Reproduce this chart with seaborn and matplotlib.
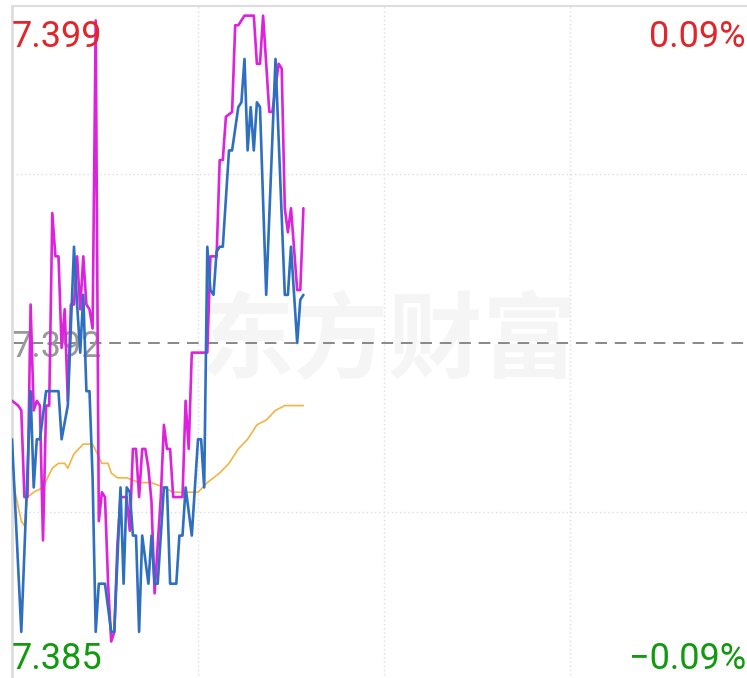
import matplotlib
matplotlib.use("Agg")
import matplotlib.pyplot as plt
import pandas as pd
import seaborn as sns

# minute index since open (0..240) and prices
mag_min = [0, 2, 3, 4, 5, 6, 7, 8, 9, 10,
           11, 12, 13, 14, 15, 16, 17, 18, 19, 20,
           21, 22, 23, 24, 25, 26, 27, 28, 29, 30,
           31, 32, 33, 34, 35, 37, 38, 39, 40, 41,
           42, 43, 44, 45, 46, 47, 48, 49, 50, 51,
           52, 55, 56, 57, 58, 63, 64, 66, 67, 68,
           69, 71, 72, 73, 74, 75, 78, 79, 80, 81,
           83, 84, 86, 87, 88, 89, 90, 92, 93, 94]
mag_val = [7.3908, 7.3907, 7.3906, 7.3888, 7.3888, 7.3928, 7.3906, 7.3908, 7.3907, 7.3879,
           7.3907, 7.3907, 7.3947, 7.3938, 7.3938, 7.3919, 7.3927, 7.3908, 7.3928, 7.3928,
           7.3938, 7.3927, 7.3938, 7.3928, 7.3927, 7.3923, 7.3987, 7.3883, 7.3889, 7.3888,
           7.3870, 7.3858, 7.3860, 7.3878, 7.3888, 7.3888, 7.3881, 7.3898, 7.3898, 7.3888,
           7.3898, 7.3898, 7.3894, 7.3887, 7.3868, 7.3878, 7.3888, 7.3903, 7.3898, 7.3898,
           7.3888, 7.3888, 7.3908, 7.3898, 7.3918, 7.3918, 7.3938, 7.3938, 7.3958, 7.3958,
           7.3967, 7.3968, 7.3986, 7.3986, 7.3987, 7.3988, 7.3988, 7.3978, 7.3978, 7.3988,
           7.3968, 7.3968, 7.3978, 7.3977, 7.3948, 7.3943, 7.3948, 7.3931, 7.3931, 7.3948]

blue_min = [0, 3, 6, 7, 8, 9, 11, 15, 16, 18,
            20, 21, 22, 23, 24, 25, 26, 27, 28, 30,
            32, 33, 35, 36, 37, 38, 39, 40, 41, 42,
            44, 45, 46, 47, 49, 50, 51, 53, 54, 55,
            56, 58, 60, 61, 62, 63, 64, 65, 66, 67,
            68, 70, 71, 73, 74, 75, 76, 77, 78, 79,
            80, 82, 85, 88, 89, 90, 92, 93, 94]
blue_val = [7.3900, 7.3860, 7.3910, 7.3890, 7.3900, 7.3900, 7.3910, 7.3910, 7.3900, 7.3907,
            7.3940, 7.3928, 7.3918, 7.3930, 7.3910, 7.3910, 7.3892, 7.3860, 7.3870, 7.3870,
            7.3860, 7.3860, 7.3890, 7.3870, 7.3890, 7.3889, 7.3880, 7.3880, 7.3860, 7.3880,
            7.3870, 7.3880, 7.3870, 7.3870, 7.3890, 7.3890, 7.3870, 7.3870, 7.3880, 7.3880,
            7.3890, 7.3880, 7.3900, 7.3900, 7.3890, 7.3940, 7.3931, 7.3930, 7.3939, 7.3940,
            7.3940, 7.3960, 7.3960, 7.3969, 7.3970, 7.3979, 7.3960, 7.3969, 7.3960, 7.3970,
            7.3969, 7.3930, 7.3979, 7.3930, 7.3930, 7.3940, 7.3920, 7.3929, 7.3930]

avg_min = [0, 1, 3, 4, 5, 7, 10, 13, 15, 17, 18, 20, 23, 26, 29, 31, 32, 34,
           37, 41, 45, 49, 52, 55, 60, 63, 67, 70, 73, 76, 79, 82, 85, 88, 94]
avg_val = [7.3896, 7.3889, 7.3883, 7.3882, 7.3888, 7.3889, 7.3890, 7.3894, 7.3895,
           7.3895, 7.3894, 7.3897, 7.3899, 7.3899, 7.3895, 7.3895, 7.3893, 7.3892,
           7.3892, 7.3891, 7.3891, 7.3890, 7.3889, 7.3889, 7.3889, 7.3891, 7.3893,
           7.3895, 7.3898, 7.3900, 7.3903, 7.3904, 7.3906, 7.3907, 7.3907]

y_low, y_mid, y_high = 7.385, 7.392, 7.399
pct_high, pct_low = "0.09%", "\u22120.09%"
watermark = "东方财富"

sns.set_style("white")
plt.rcParams["font.family"] = ["Roboto", "DejaVu Sans"]

W, H = 747, 678
fig = plt.figure(figsize=(W / 100, H / 100), dpi=100)
ax = fig.add_axes([12 / W, -2 / H, 744 / W, 674 / H])

ax.text(389 / W, 1 - 343 / H, watermark, transform=fig.transFigure,
        ha="center", va="center", fontsize=68, fontweight="bold",
        color="#f5f5f5", family=["Noto Sans CJK SC", "DejaVu Sans"], zorder=0.5)

# grid
for gy in [7.3955, 7.3885]:
    ax.axhline(gy, color="#dddddd", lw=1, ls=(0, (1, 2)), zorder=1)
for gx in [60, 120, 180]:
    ax.axvline(gx, color="#dddddd", lw=1, ls=(0, (1, 2)), zorder=1)
ax.axhline(y_mid, color="#888888", lw=1.4, ls=(0, (6, 4)), zorder=1)

ax.text(12 / W, 1 - 357 / H, f"{y_mid:.3f}", transform=fig.transFigure,
        fontsize=26, color="#999999", ha="left", va="baseline", zorder=1.5)

sns.lineplot(x=avg_min, y=avg_val, ax=ax, color="#f2b443", lw=1.2, zorder=2)
sns.lineplot(x=mag_min, y=mag_val, ax=ax, color="#dd22dd", lw=1.9, zorder=3)
sns.lineplot(x=blue_min, y=blue_val, ax=ax, color="#2f6fbf", lw=1.9, zorder=4)

ax.set_xlim(0, 240)
ax.set_ylim(y_low, y_high)
ax.set_xticks([])
ax.set_yticks([])
ax.set_xlabel("")
ax.set_ylabel("")
for side in ["right", "bottom"]:
    ax.spines[side].set_visible(False)
ax.spines["top"].set_color("#dddddd")
ax.spines["top"].set_linewidth(1.5)
ax.spines["left"].set_color("#dddddd")
ax.spines["left"].set_linewidth(2)

red, green = "#e0262a", "#11990f"
ax.text(12 / W, 1 - 47 / H, f"{y_high:.3f}", transform=fig.transFigure,
        fontsize=26, color=red, ha="left", va="baseline", zorder=5)
ax.text(12 / W, 1 - 669 / H, f"{y_low:.3f}", transform=fig.transFigure,
        fontsize=26, color=green, ha="left", va="baseline", zorder=5)
ax.text(746 / W, 1 - 47 / H, pct_high, transform=fig.transFigure,
        fontsize=26, color=red, ha="right", va="baseline", zorder=5)
ax.text(746 / W, 1 - 669 / H, pct_low, transform=fig.transFigure,
        fontsize=26, color=green, ha="right", va="baseline", zorder=5)

fig.savefig("out.png", dpi=100)
plt.close(fig)
